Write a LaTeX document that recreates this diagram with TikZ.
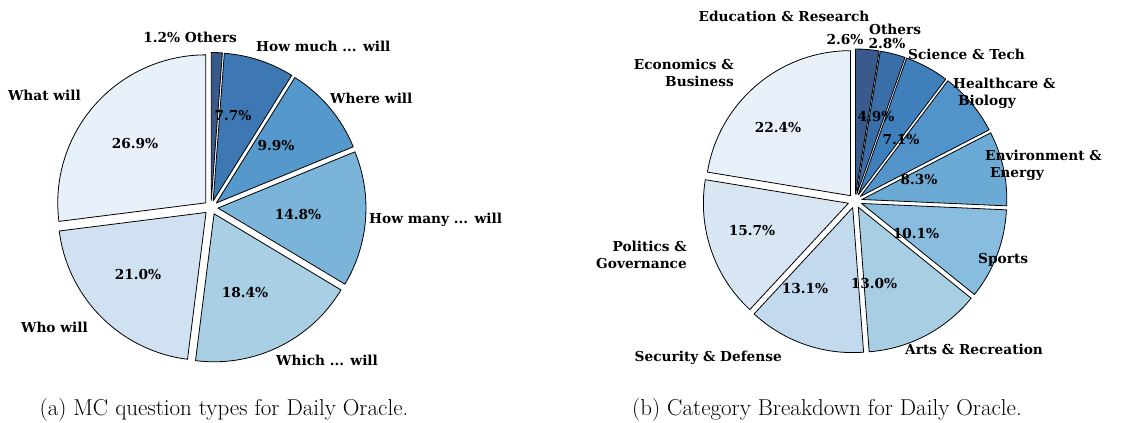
\documentclass[tikz,border=0pt]{standalone}
\usepackage{fontspec}
\usepackage{tikz}
\usetikzlibrary{calc}
\newfontfamily\piefont{DejaVu Serif}

% Blues, light to dark
\definecolor{bl1}{HTML}{E8F0F9}
\definecolor{bl2}{HTML}{D0E1F2}
\definecolor{bl3}{HTML}{A9CFE4}
\definecolor{bl4}{HTML}{7BB4D9}
\definecolor{bl5}{HTML}{5598CB}
\definecolor{bl6}{HTML}{3D78B4}
\definecolor{bl7}{HTML}{385A8B}

\definecolor{cb1}{HTML}{E8F0FA}
\definecolor{cb2}{HTML}{D8E6F4}
\definecolor{cb3}{HTML}{C3DAEE}
\definecolor{cb4}{HTML}{A8CEE4}
\definecolor{cb5}{HTML}{88BDDF}
\definecolor{cb6}{HTML}{6AAAD4}
\definecolor{cb7}{HTML}{5294C9}
\definecolor{cb8}{HTML}{3F80BC}
\definecolor{cb9}{HTML}{3A6EA8}
\definecolor{cb10}{HTML}{395A8A}

\begin{document}
\begin{tikzpicture}[x=1pt,y=1pt,
    wedge/.style={draw=black,line width=0.8pt,line join=round},
    lbl/.style={font=\piefont\bfseries\fontsize{13.7}{17}\selectfont,inner sep=0pt},
    pct/.style={lbl},
    captext/.style={font=\fontsize{23}{26}\selectfont,inner sep=0pt}]

    \useasboundingbox (0,0) rectangle (1146,423);

    % (a) question types
    \coordinate (ca) at (211,215.5);
    \foreach \from/\to/\col in {90/85.68/bl7, 85.68/57.96/bl6, 57.96/22.32/bl5,
        22.32/-30.96/bl4, -30.96/-97.2/bl3, -97.2/-172.8/bl2, -172.8/-270/bl1}{
        \pgfmathsetmacro\mid{(\from+\to)/2}
        \filldraw[wedge,fill=\col] ($(ca)+(\mid:7)$) -- ++(\from:148)
            arc[start angle=\from,end angle=\to,radius=148] -- cycle;
    }

    \node[pct] (pwhat) at (135,279) {26.9\%};
    \node[pct] (pwho) at (138,148) {21.0\%};
    \node[pct] (pwhich) at (245,130) {18.4\%};
    \node[pct] (pmany) at (298,208) {14.8\%};
    \node[pct] (pwhere) at (276,277) {9.9\%};
    \node[pct] (pmuch) at (233,307) {7.7\%};

    \node[lbl,anchor=east] (lothers) at (237,386) {1.2\% Others};
    \node[lbl,anchor=west] (lmuch) at (256,377) {How much ... will};
    \node[lbl,anchor=west] (lwhere) at (330,325) {Where will};
    \node[lbl,anchor=west] (lmany) at (369,203) {How many ... will};
    \node[lbl,anchor=west] (lwhich) at (276,63) {Which ... will};
    \node[lbl,anchor=east] (lwho) at (88,96) {Who will};
    \node[lbl,anchor=east] (lwhat) at (81,328) {What will};

    % (b) categories
    \coordinate (cb) at (855,222);
    \foreach \from/\to/\col in {90/80.64/cb10, 80.64/70.56/cb9, 70.56/52.92/cb8,
        52.92/27.36/cb7, 27.36/-2.52/cb6, -2.52/-38.88/cb5, -38.88/-85.68/cb4,
        -85.68/-132.84/cb3, -132.84/-189.36/cb2, -189.36/-270/cb1}{
        \pgfmathsetmacro\mid{(\from+\to)/2}
        \filldraw[wedge,fill=\col] ($(cb)+(\mid:7)$) -- ++(\from:145)
            arc[start angle=\from,end angle=\to,radius=145] -- cycle;
    }

    \node[pct] (pecon) at (778,295) {22.4\%};
    \node[pct] (ppol) at (752,192) {15.7\%};
    \node[pct] (psec) at (805,134) {13.1\%};
    \node[pct] (parts) at (874,139) {13.0\%};
    \node[pct] (psport) at (916,189) {10.1\%};
    \node[pct] (penv) at (919,243) {8.3\%};
    \node[pct] (pheal) at (901,283) {7.1\%};
    \node[pct] (psci) at (876,306) {4.9\%};
    \node[pct] (pedu) at (845,383) {2.6\%};
    \node[pct] (poth) at (887,379) {2.8\%};

    \node[lbl] (ledu) at (784,407) {Education \& Research};
    \node[lbl,anchor=west] (loth) at (869,394) {Others};
    \node[lbl,anchor=west] (lsci) at (908,369) {Science \& Tech};
    \node[lbl,anchor=west,align=left] (lheal) at (953,329.5) {Healthcare \&\\\hspace*{0.35em}Biology};
    \node[lbl,anchor=west,align=left] (lenv) at (985,258) {Environment \&\\\hspace*{0.35em}Energy};
    \node[lbl,anchor=west] (lsport) at (978,163) {Sports};
    \node[lbl,anchor=west] (larts) at (905,74) {Arts \& Recreation};
    \node[lbl,anchor=east] (lsec) at (782,65) {Security \& Defense};
    \node[lbl,anchor=east,align=right] (lpol) at (687,168.5) {Politics \&\\Governance};
    \node[lbl,anchor=east,align=right] (lecon) at (734,350.5) {Economics \&\\Business};

    % captions
    \node[captext] (capa) at (224,13) {(a) MC question types for Daily Oracle.};
    \node[captext] (capb) at (827,13) {(b) Category Breakdown for Daily Oracle.};

\end{tikzpicture}
\end{document}
